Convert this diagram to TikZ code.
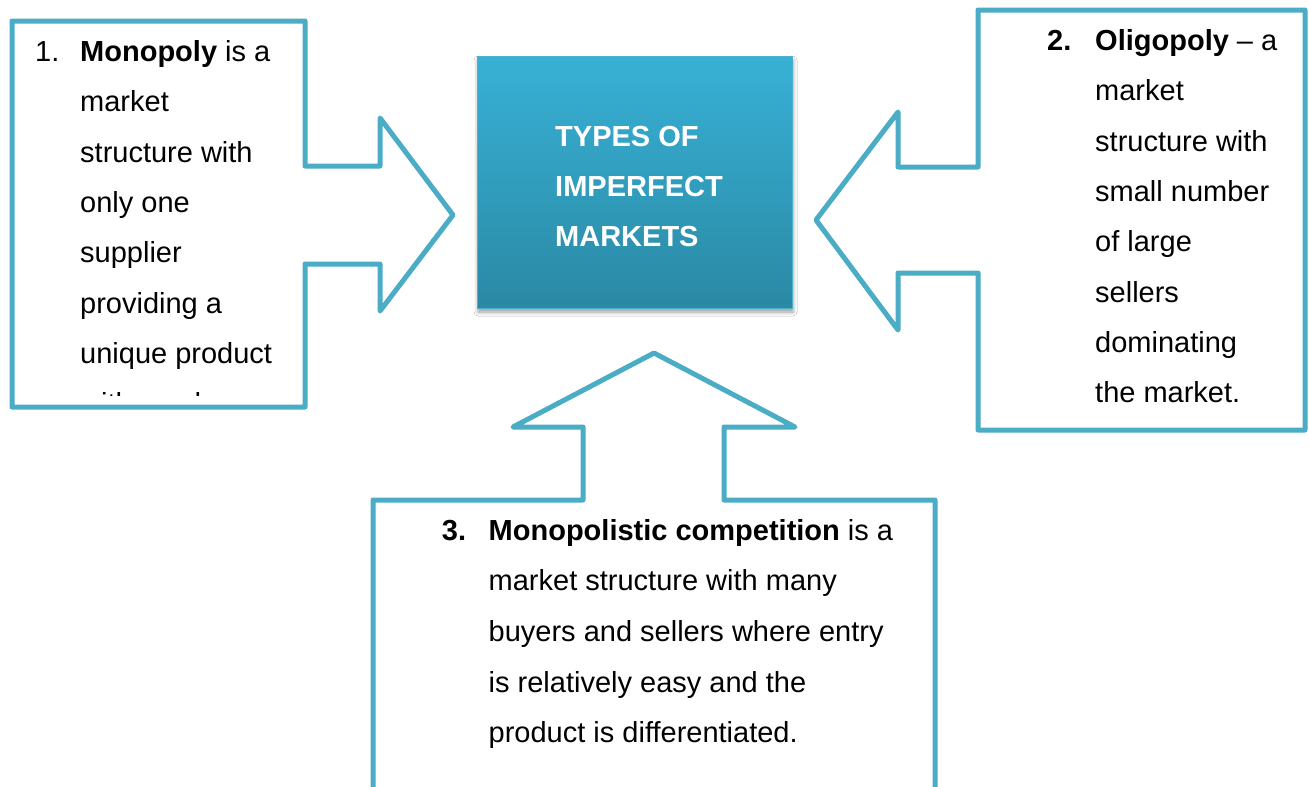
\documentclass[tikz,border=0pt]{standalone}
\usepackage{fontspec}
\setmainfont{Liberation Sans}
\usetikzlibrary{shadows.blur}
\definecolor{calloutblue}{RGB}{75,172,198}
\definecolor{boxtop}{RGB}{56,177,214}
\definecolor{boxbot}{RGB}{42,137,164}
\definecolor{boxedge}{RGB}{78,176,206}
\tikzset{
  callout/.style={draw=calloutblue, line width=5pt, fill=white, line join=round},
  txt/.style={anchor=base west, inner sep=0pt, font=\fontsize{29}{35}\selectfont},
  hdr/.style={txt, text=white, font=\fontsize{29}{35}\selectfont\bfseries},
}
\begin{document}
\begin{tikzpicture}[x=1pt,y=-1pt]
\useasboundingbox (0,0) rectangle (1309,787);
\fill[white] (0,0) rectangle (1309,787);

% left callout (Monopoly)
\draw[callout] (12,21) -- (305,21) -- (305,166) -- (380,166) -- (380,118)
  -- (453,215) -- (380,311) -- (380,264) -- (305,264) -- (305,407)
  -- (12,407) -- cycle;
% right callout (Oligopoly)
\draw[callout] (1305,10) -- (978,10) -- (978,167) -- (898,167) -- (898,112)
  -- (816,220) -- (898,330) -- (898,273) -- (978,273) -- (978,430)
  -- (1305,430) -- cycle;
% bottom callout (Monopolistic competition)
\draw[callout] (373,800) -- (373,500) -- (583,500) -- (583,427) -- (513,427)
  -- (654,353) -- (795,427) -- (724,427) -- (724,500) -- (935,500) -- (935,800);

% centre box
\node[minimum width=315pt, minimum height=252pt, inner sep=0pt,
      top color=boxtop, bottom color=boxbot, draw=boxedge, line width=0.8pt,
      blur shadow={shadow xshift=1pt, shadow yshift=-4pt,
                   shadow blur radius=4pt, shadow opacity=40}]
      (center) at (634.5,182) {};
\node[hdr] (h1) at (555,146.7) {TYPES OF};
\node[hdr] (h2) at (555,196.7) {IMPERFECT};
\node[hdr] (h3) at (555,246.7) {MARKETS};

% left text
\begin{scope}
\clip (12,21) rectangle (305,395.5);
\node[txt] (m0) at (35,61.5) {1.};
\node[txt] (m1) at (80,61.5) {\textbf{Monopoly} is a};
\foreach \t [count=\i from 1] in {market, structure with, only one, supplier,
    providing a, unique product, with much}
  \node[txt] (m\i x) at (80,{61.5+50.3*\i}) {\t};
\end{scope}

% right text
\node[txt] (o0) at (1047,50.5) {\textbf{2.}};
\node[txt] (o1) at (1095,50.5) {\textbf{Oligopoly} – a};
\foreach \t [count=\i from 1] in {market, structure with, small number, of large,
    sellers, dominating, the market.}
  \node[txt] (o\i x) at (1095,{50.5+50.3*\i}) {\t};

% bottom text
\node[txt] (c0) at (441.7,540) {\textbf{3.}};
\node[txt] (c1) at (488.5,540) {\textbf{Monopolistic competition} is a};
\foreach \t [count=\i from 1] in {market structure with many,
    buyers and sellers where entry, is relatively easy and the,
    product is differentiated.}
  \node[txt] (c\i x) at (488.5,{540+50.7*\i}) {\t};
\end{tikzpicture}
\end{document}
